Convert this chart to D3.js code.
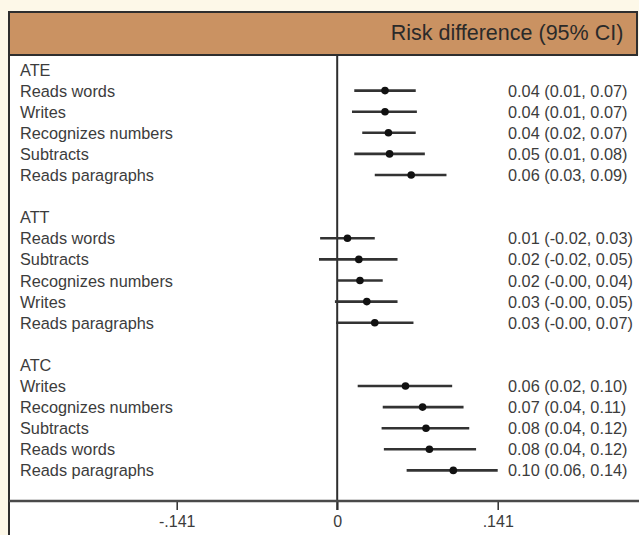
<!DOCTYPE html>
<html>
<head>
<meta charset="utf-8">
<script src="https://cdn.jsdelivr.net/npm/d3@7"></script>
<style>
  html, body { margin: 0; padding: 0; background: #fdf8e8; }
  svg { display: block; }
  text { font-family: "Liberation Sans", Arial, sans-serif; }
</style>
</head>
<body>
<svg id="chart"></svg>
<script>
// groups and their outcomes, in drawing order
const groups = ['ATE', 'ATT', 'ATC'];
const outcomes = [
  ['Reads words', 'Writes', 'Recognizes numbers', 'Subtracts', 'Reads paragraphs'],
  ['Reads words', 'Subtracts', 'Recognizes numbers', 'Writes', 'Reads paragraphs'],
  ['Writes', 'Recognizes numbers', 'Subtracts', 'Reads words', 'Reads paragraphs'],
];
// point estimates and CI bounds
const estimates = [
  [0.042, 0.042, 0.045, 0.046, 0.065],
  [0.009, 0.019, 0.020, 0.026, 0.033],
  [0.060, 0.075, 0.078, 0.081, 0.102],
];
const lower = [
  [0.015, 0.013, 0.022, 0.015, 0.033],
  [-0.015, -0.016, 0.000, -0.002, -0.001],
  [0.018, 0.040, 0.039, 0.041, 0.061],
];
const upper = [
  [0.069, 0.070, 0.069, 0.077, 0.096],
  [0.033, 0.053, 0.040, 0.053, 0.067],
  [0.101, 0.111, 0.116, 0.122, 0.141],
];
// printed labels on the right
const ciLabels = [
  ['0.04 (0.01, 0.07)', '0.04 (0.01, 0.07)', '0.04 (0.02, 0.07)', '0.05 (0.01, 0.08)', '0.06 (0.03, 0.09)'],
  ['0.01 (-0.02, 0.03)', '0.02 (-0.02, 0.05)', '0.02 (-0.00, 0.04)', '0.03 (-0.00, 0.05)', '0.03 (-0.00, 0.07)'],
  ['0.06 (0.02, 0.10)', '0.07 (0.04, 0.11)', '0.08 (0.04, 0.12)', '0.08 (0.04, 0.12)', '0.10 (0.06, 0.14)'],
];
const tickValues = [-0.141, 0, 0.141];
const tickLabels = ['-.141', '0', '.141'];
const title = 'Risk difference (95% CI)';

const width = 639, height = 535;
const box = {left: 9, top: 12, headerBottom: 55, axisY: 501};
const textColor = '#3c3c3c', lineColor = '#2e2e2e';

const svg = d3.select('#chart').attr('width', width).attr('height', height);

// build row list: group header, its outcomes, then a blank row
const rows = [];
groups.forEach((g, gi) => {
  rows.push({type: 'group', label: g});
  outcomes[gi].forEach((o, oi) => rows.push({
    type: 'item', label: o, est: estimates[gi][oi], lo: lower[gi][oi], hi: upper[gi][oi], ci: ciLabels[gi][oi]
  }));
  if (gi < groups.length - 1) rows.push({type: 'blank'});
});

const x = d3.scaleLinear().domain([-0.141, 0.141]).range([176.7, 497.7]);
const y = d3.scalePoint().domain(d3.range(rows.length)).range([69.5, 470.4]);

// body (white) and header (tan)
svg.append('rect')
  .attr('x', box.left).attr('y', box.headerBottom)
  .attr('width', width - box.left + 5).attr('height', height - box.headerBottom + 5)
  .attr('fill', '#ffffff');
svg.append('rect')
  .attr('x', box.left).attr('y', box.top)
  .attr('width', 628).attr('height', box.headerBottom - box.top)
  .attr('fill', '#ca9262')
  .attr('stroke', lineColor).attr('stroke-width', 2);
svg.append('line')
  .attr('x1', box.left).attr('x2', box.left)
  .attr('y1', box.top).attr('y2', height + 2)
  .attr('stroke', lineColor).attr('stroke-width', 2);

svg.append('text')
  .attr('x', 507).attr('y', 40)
  .attr('text-anchor', 'middle')
  .attr('font-size', 21.5)
  .attr('fill', '#2a2a2a')
  .text(title);

// zero reference line
svg.append('line')
  .attr('x1', x(0)).attr('x2', x(0))
  .attr('y1', box.headerBottom).attr('y2', box.axisY + 9)
  .attr('stroke', lineColor).attr('stroke-width', 2);

// x axis
const axis = svg.append('g')
  .attr('transform', `translate(0,${box.axisY})`)
  .call(d3.axisBottom(x).tickValues(tickValues).tickSize(9).tickPadding(6)
    .tickFormat((d, i) => tickLabels[i]));
axis.select('.domain').remove();
axis.selectAll('.tick line').attr('stroke', lineColor).attr('stroke-width', 1.5);
axis.selectAll('.tick text').attr('font-size', 16).attr('fill', textColor)
  .attr('font-family', '"Liberation Sans", Arial, sans-serif');
svg.append('line')
  .attr('x1', box.left).attr('x2', width)
  .attr('y1', box.axisY).attr('y2', box.axisY)
  .attr('stroke', '#4a4a4a').attr('stroke-width', 2.5);

// row labels
svg.selectAll('text.row')
  .data(rows.map((r, i) => ({...r, i})).filter(r => r.type !== 'blank'))
  .join('text')
  .attr('class', 'row')
  .attr('x', 20)
  .attr('y', d => y(d.i) + 6)
  .attr('font-size', 16.3)
  .attr('fill', textColor)
  .text(d => d.label);

const items = rows.map((r, i) => ({...r, i})).filter(r => r.type === 'item');

// confidence intervals
svg.selectAll('line.ci')
  .data(items)
  .join('line')
  .attr('class', 'ci')
  .attr('x1', d => x(d.lo)).attr('x2', d => x(d.hi))
  .attr('y1', d => y(d.i)).attr('y2', d => y(d.i))
  .attr('stroke', '#333').attr('stroke-width', 2.6);

svg.selectAll('circle.est')
  .data(items)
  .join('circle')
  .attr('class', 'est')
  .attr('cx', d => x(d.est)).attr('cy', d => y(d.i))
  .attr('r', 3.8)
  .attr('fill', '#111');

svg.selectAll('text.ci')
  .data(items)
  .join('text')
  .attr('class', 'ci')
  .attr('x', 508)
  .attr('y', d => y(d.i) + 6)
  .attr('font-size', 16.3)
  .attr('fill', textColor)
  .text(d => d.ci);
</script>
</body>
</html>
